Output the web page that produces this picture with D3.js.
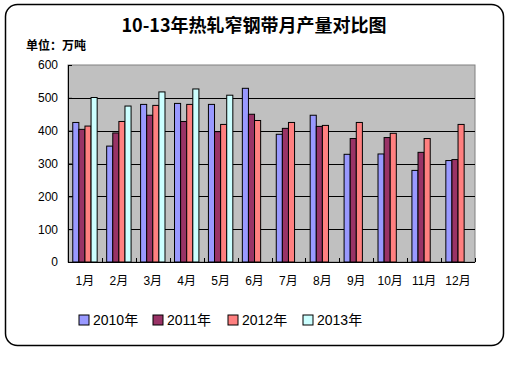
<!DOCTYPE html>
<html>
<head>
<meta charset="utf-8">
<script src="https://cdn.jsdelivr.net/npm/d3@7"></script>
<style>
  body { margin: 0; background: #fff; }
  svg { font-family: "Liberation Sans", "Noto Sans CJK SC", sans-serif; }
  .title { font-family: "Noto Sans CJK SC", sans-serif; font-size: 18px; font-weight: bold; }
  .unit { font-family: "Noto Sans CJK SC", sans-serif; font-size: 12px; font-weight: bold; }
  .tick-label { font-size: 12px; }
  .legend-text { font-size: 14px; }
</style>
</head>
<body>
<svg id="chart" width="512" height="384"></svg>
<script>
const MONTHS = ["1月", "2月", "3月", "4月", "5月", "6月", "7月", "8月", "9月", "10月", "11月", "12月"];
const SERIES = ["2010年", "2011年", "2012年", "2013年"];
const COLORS = ["#9999ff", "#993366", "#ff8080", "#ccffff"];
const Y_TICKS = [0, 100, 200, 300, 400, 500, 600];

const V2010 = [425, 353, 480, 483, 480, 529, 389, 447, 328, 329, 279, 309];
const V2011 = [404, 393, 447, 428, 397, 450, 407, 413, 376, 379, 334, 312];
const V2012 = [414, 428, 477, 480, 419, 431, 425, 416, 425, 392, 376, 419];
const V2013 = [501, 475, 518, 527, 508, null, null, null, null, null, null, null];
const VALUES = [V2010, V2011, V2012, V2013];

const PLOT = {left: 68, right: 475, top: 65, bottom: 262};

let svg = d3.select("#chart");

// outer frame
svg.append("rect")
   .attr("x", 5.5).attr("y", 4.5)
   .attr("width", 498).attr("height", 341)
   .attr("rx", 12).attr("ry", 12)
   .attr("fill", "#fff")
   .attr("stroke", "#000")
   .attr("stroke-width", 1.5);

svg.append("text")
   .attr("class", "title")
   .attr("x", 254).attr("y", 32)
   .attr("text-anchor", "middle")
   .text("10-13年热轧窄钢带月产量对比图");

svg.append("text")
   .attr("class", "unit")
   .attr("x", 26).attr("y", 50)
   .text("单位：万吨");

let x0 = d3.scaleBand().domain(MONTHS).range([PLOT.left, PLOT.right]).paddingInner(0).paddingOuter(0);
let x1 = d3.scaleBand().domain(SERIES).range([0, x0.bandwidth()]).paddingInner(0).paddingOuter(0.78);
let y = d3.scaleLinear().domain([0, 600]).range([PLOT.bottom, PLOT.top]);

// plot background
svg.append("rect")
   .attr("x", PLOT.left).attr("y", PLOT.top)
   .attr("width", PLOT.right - PLOT.left).attr("height", PLOT.bottom - PLOT.top)
   .attr("fill", "#c0c0c0")
   .attr("stroke", "#808080");

// gridlines
svg.append("g")
   .selectAll("line")
   .data(Y_TICKS.filter(d => d > 0 && d < 600))
   .enter().append("line")
   .attr("x1", PLOT.left).attr("x2", PLOT.right)
   .attr("y1", d => Math.round(y(d)) + 0.5).attr("y2", d => Math.round(y(d)) + 0.5)
   .attr("stroke", "#000");

// bars
let rows = [];
MONTHS.forEach((m, i) => {
  SERIES.forEach((s, j) => {
    if (VALUES[j][i] != null) rows.push({month: m, series: s, idx: j, value: VALUES[j][i]});
  });
});

svg.append("g")
   .selectAll("rect")
   .data(rows)
   .enter().append("rect")
   .attr("x", d => x0(d.month) + x1(d.series))
   .attr("y", d => y(d.value))
   .attr("width", x1.bandwidth())
   .attr("height", d => y(0) - y(d.value))
   .attr("fill", d => COLORS[d.idx])
   .attr("stroke", "#000")
   .attr("stroke-width", 1);

// y axis
let yAxis = svg.append("g")
   .attr("transform", `translate(${PLOT.left},0)`)
   .call(d3.axisLeft(y).tickValues(Y_TICKS).tickSize(-4).tickPadding(10));
yAxis.select(".domain").attr("stroke", "#000");
yAxis.selectAll("text").attr("class", "tick-label").attr("fill", "#000");

// x axis: ticks at category boundaries, pointing inward
let bottom = svg.append("g");
bottom.append("line")
   .attr("x1", PLOT.left).attr("x2", PLOT.right)
   .attr("y1", PLOT.bottom + 0.5).attr("y2", PLOT.bottom + 0.5)
   .attr("stroke", "#000");
bottom.selectAll(".xtick")
   .data(MONTHS)
   .enter().append("line")
   .attr("x1", d => Math.round(x0(d) + x0.bandwidth()) + 0.5)
   .attr("x2", d => Math.round(x0(d) + x0.bandwidth()) + 0.5)
   .attr("y1", PLOT.bottom).attr("y2", PLOT.bottom - 4)
   .attr("stroke", "#000");
bottom.selectAll(".xlabel")
   .data(MONTHS)
   .enter().append("text")
   .attr("class", "tick-label")
   .attr("x", d => x0(d) + x0.bandwidth() / 2)
   .attr("y", 285)
   .attr("text-anchor", "middle")
   .text(d => d);

// legend
const LEGEND_X = [79, 153, 228, 303];
let legend = svg.append("g")
   .selectAll("g")
   .data(SERIES)
   .enter().append("g")
   .attr("transform", (d, i) => `translate(${LEGEND_X[i]},315)`);
legend.append("rect")
   .attr("width", 10).attr("height", 10)
   .attr("fill", (d, i) => COLORS[i])
   .attr("stroke", "#000");
legend.append("text")
   .attr("class", "legend-text")
   .attr("x", 14).attr("y", 10)
   .text(d => d);
</script>
</body>
</html>
